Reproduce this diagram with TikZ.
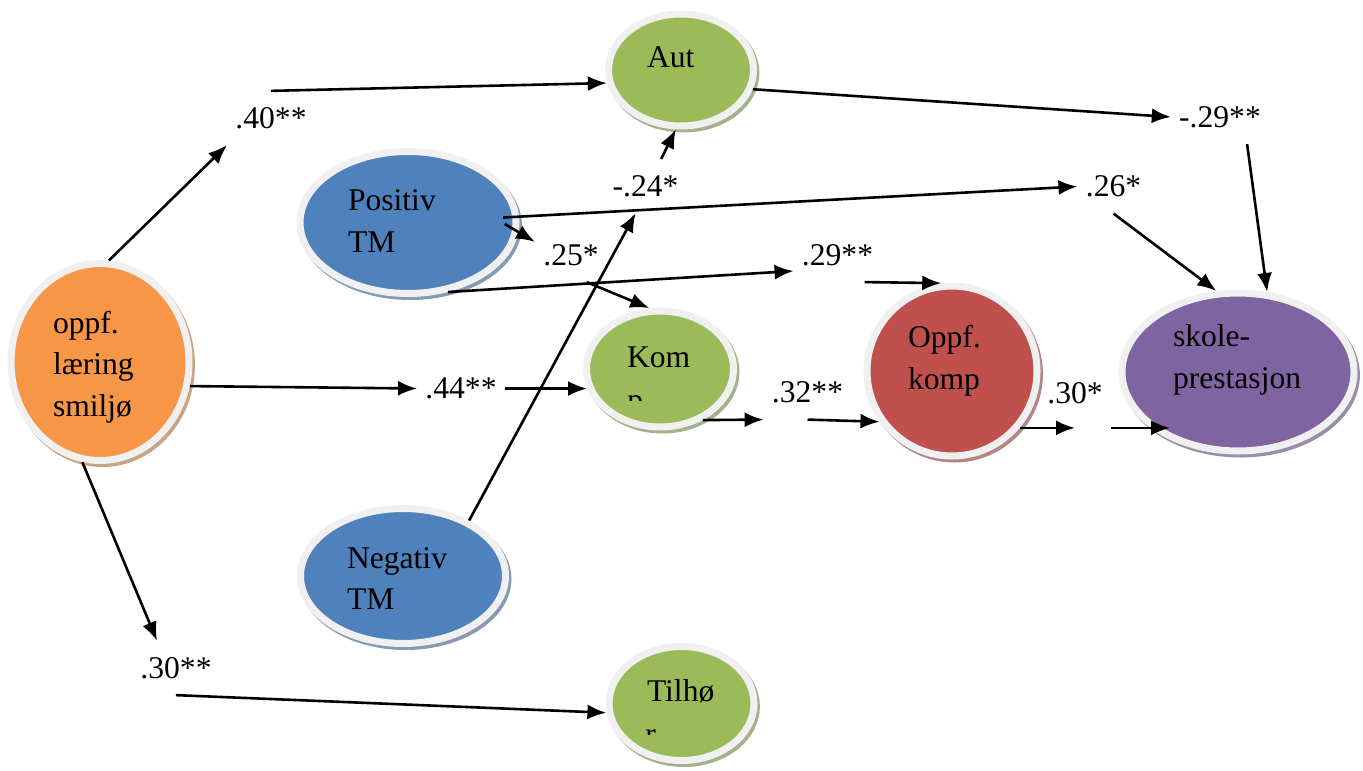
\documentclass[tikz,border=0pt]{standalone}
\usepackage{fontspec}
\setmainfont{Liberation Serif}
\usetikzlibrary{shapes.geometric,shadows,arrows.meta}

\definecolor{orangefill}{HTML}{F79646}
\definecolor{bluefill}{HTML}{4F81BD}
\definecolor{greenfill}{HTML}{9BBB59}
\definecolor{redfill}{HTML}{C0504D}
\definecolor{purplefill}{HTML}{8064A2}
\definecolor{ringgray}{HTML}{F0F0F0}

% text inside an ellipse: shift left by #1, raise by #2
\newcommand{\intext}[3]{\raisebox{#2}[\height][\depth]{\makebox[0pt][l]{\hspace*{#1}\begin{tabular}{@{}l@{}}#3\end{tabular}}}}

\tikzset{
	txt/.style={font=\fontsize{15.8}{20.8}\selectfont},
	construct/.style={txt, ellipse, draw=ringgray, line width=3.5pt, inner sep=0pt, fill=#1,
		general shadow={draw=#1!50!gray!80!white, fill=#1!50!gray!80!white, line width=3.5pt,
			shadow xshift=1.2pt, shadow yshift=-1.5pt}},
	coef/.style={txt, inner xsep=4pt, inner ysep=8pt},
	patharrow/.style={-{Latex[length=9.5pt,width=7.5pt]}, line width=1.3pt}
}

\begin{document}
\begin{tikzpicture}[x=0.5pt,y=-0.5pt]

		\useasboundingbox (0,0) rectangle (1363,770);

		% constructs
		\node[construct=orangefill, minimum width=89pt, minimum height=98.5pt] (oppf) at (100,362) {\intext{-23.5pt}{-2.3pt}{oppf.\\læring\\smiljø}};
		\node[construct=bluefill, minimum width=108pt, minimum height=71pt] (positiv) at (408,222.5) {\intext{-30pt}{-0.3pt}{Positiv\\TM}};
		\node[construct=bluefill, minimum width=102.5pt, minimum height=67.5pt] (negativ) at (403,576) {\intext{-28pt}{-2.3pt}{Negativ\\TM}};
		\node[construct=greenfill, minimum width=72.5pt, minimum height=56pt] (aut) at (681,70) {\intext{-17pt}{5.2pt}{Aut}};
		\node[construct=greenfill, minimum width=73.5pt, minimum height=58pt] (kom) at (660,369) {\intext{-16.5pt}{4.7pt}{Kom}};
		\node[construct=greenfill, minimum width=72.5pt, minimum height=57pt] (tilhor) at (681.5,703.5) {\intext{-17.25pt}{5pt}{Tilhø}};
		\node[construct=redfill, minimum width=85pt, minimum height=85pt] (okomp) at (952,371) {\intext{-22pt}{5.5pt}{Oppf.\\komp}};
		\node[construct=purplefill, minimum width=116pt, minimum height=79pt] (skole) at (1238,372) {\intext{-32.5pt}{6.5pt}{skole-\\prestasjon}};

		% cut-off second lines
		\begin{scope}
			\clip (600,380) rectangle (720,400);
			\node[txt, anchor=base west, inner sep=0pt] (komrest) at (627,410) {p};
		\end{scope}
		\begin{scope}
			\clip (620,715) rectangle (720,734);
			\node[txt, anchor=base west, inner sep=0pt] (tilhorrest) at (645,744) {r};
		\end{scope}

		% coefficients
		\node[coef] (l40)  at (271,118)    {.40**};
		\node[coef] (l24)  at (645.5,186)  {-.24*};
		\node[coef] (l25)  at (571,255)    {.25*};
		\node[coef] (l29n) at (1220,117)   {-.29**};
		\node[coef] (l26)  at (1113.5,186.5) {.26*};
		\node[coef] (l29)  at (837.5,255)  {.29**};
		\node[coef] (l32)  at (807.5,392.5) {.32**};
		\node[coef] (l30)  at (1075,393)   {.30*};
		\node[coef] (l44)  at (461,388.5)  {.44**};
		\node[coef] (l30b) at (176,668)    {.30**};

		% paths
		\draw[patharrow] (oppf.85) -- (l40.south west);
		\draw[patharrow] (l40.north) -- (aut.190);
		\draw[patharrow] (aut.-15) -- (l29n.west);
		\draw[patharrow] (l29n.-45) -- (skole.70);
		\draw[patharrow, shorten <=-8pt] (positiv.3) -- (l26.west);
		\draw[patharrow] (l26.south) -- (skole.105);
		\draw[patharrow, shorten <=-8pt] (positiv.-5) -- (l25.160);
		\draw[patharrow] (l25.-60) -- (kom.100);
		\draw[patharrow] (positiv.-60) -- (l29.200);
		\draw[patharrow] (l29.-45) -- (okomp.97);
		\draw[patharrow] (negativ.40) -- (l24.-110);
		\draw[patharrow] (l24.60) -- (aut.-95);
		\draw[patharrow] (oppf.-15) -- (l44.west);
		\draw[patharrow] (l44.east) -- (kom.195);
		\draw[patharrow] (kom.-50) -- (l32.south west);
		\draw[patharrow] (l32.south) -- (okomp.215);
		\draw[patharrow] (okomp.-40) -- (okomp.-40 -| l30.south);
		\draw[patharrow] (l30.south east |- okomp.-40) -- (skole.225 |- okomp.-40);
		\draw[patharrow] (oppf.-100) -- (l30b.125);
		\draw[patharrow] (l30b.south) -- (tilhor.187);

\end{tikzpicture}
\end{document}
